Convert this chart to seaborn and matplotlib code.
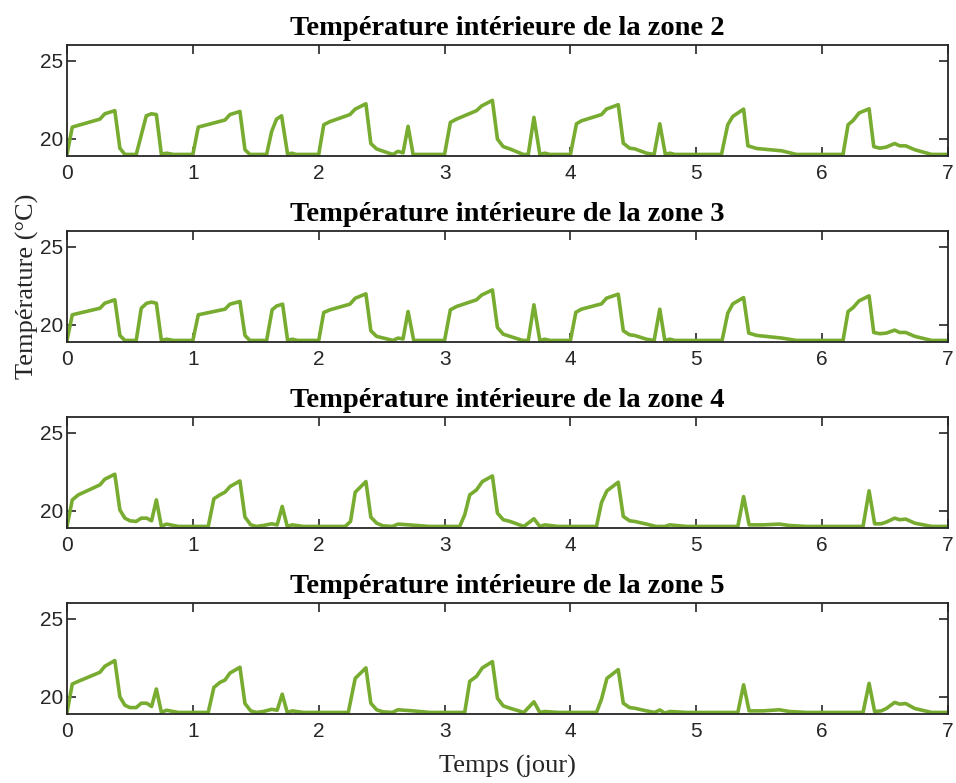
import matplotlib
matplotlib.use("Agg")
import matplotlib.pyplot as plt
import seaborn as sns
import pandas as pd

# ---------------- data (time in days, temperature in °C) ----------------
zones = ["2", "3", "4", "5"]

t2 = [0, 0.042, 0.262, 0.30, 0.38, 0.42, 0.46, 0.55, 0.63, 0.67, 0.71, 0.75, 0.79, 0.845, 1.0,
      1.043, 1.255, 1.295, 1.374, 1.414, 1.453, 1.586, 1.626, 1.665, 1.705, 1.753, 1.785, 1.82, 2.0,
      2.04, 2.09, 2.248, 2.29, 2.375, 2.414, 2.46, 2.55, 2.59, 2.63, 2.67, 2.71, 2.75, 2.79, 3.0,
      3.046, 3.095, 3.254, 3.294, 3.38, 3.42, 3.466, 3.52, 3.625, 3.665, 3.71, 3.757, 3.797, 3.836, 4.0,
      4.048, 4.088, 4.247, 4.286, 4.38, 4.42, 4.47, 4.51, 4.604, 4.665, 4.71, 4.754, 4.79, 4.83, 5.2,
      5.25, 5.29, 5.376, 5.41, 5.48, 5.68, 5.795, 6.166,
      6.206, 6.246, 6.293, 6.373, 6.41, 6.458, 6.51, 6.576, 6.616, 6.664, 6.736, 6.87, 7.0]
v2 = [19.0, 20.75, 21.26, 21.6, 21.8, 19.4, 19.0, 19.0, 21.47, 21.6, 21.55, 19.0, 19.08, 19.0, 19.0,
      20.75, 21.2, 21.55, 21.75, 19.3, 19.0, 19.0, 20.47, 21.26, 21.47, 19.0, 19.08, 19.0, 19.0,
      20.9, 21.1, 21.55, 21.9, 22.24, 19.7, 19.35, 19.1, 19.0, 19.2, 19.1, 20.8, 19.0, 19.0, 19.0,
      21.05, 21.26, 21.8, 22.1, 22.46, 19.98, 19.5, 19.35, 19.0, 19.0, 21.37, 19.0, 19.08, 19.0, 19.0,
      20.96, 21.15, 21.55, 21.9, 22.18, 19.72, 19.4, 19.36, 19.08, 19.0, 20.96, 19.0, 19.08, 19.0, 19.0,
      20.9, 21.43, 21.9, 19.55, 19.38, 19.23, 19.0, 19.0,
      20.9, 21.17, 21.65, 21.92, 19.5, 19.4, 19.47, 19.7, 19.55, 19.55, 19.3, 19.0, 19.0]

t3 = [0, 0.042, 0.262, 0.30, 0.38, 0.42, 0.46, 0.55, 0.59, 0.633, 0.672, 0.71, 0.75, 0.79, 0.845, 1.0,
      1.043, 1.255, 1.295, 1.374, 1.414, 1.453, 1.586, 1.63, 1.665, 1.713, 1.753, 1.79, 1.83, 2.0,
      2.04, 2.09, 2.248, 2.29, 2.375, 2.414, 2.46, 2.55, 2.59, 2.63, 2.67, 2.71, 2.755, 3.0,
      3.046, 3.095, 3.254, 3.294, 3.38, 3.42, 3.466, 3.52, 3.62, 3.665, 3.71, 3.757, 3.797, 3.836, 4.0,
      4.043, 4.088, 4.247, 4.286, 4.38, 4.42, 4.47, 4.51, 4.604, 4.665, 4.71, 4.75, 4.79, 4.83, 5.205,
      5.25, 5.29, 5.376, 5.417, 5.48, 5.68, 5.795, 6.166,
      6.206, 6.246, 6.293, 6.373, 6.41, 6.458, 6.51, 6.576, 6.616, 6.664, 6.736, 6.87, 7.0]
v3 = [19.0, 20.64, 21.06, 21.38, 21.6, 19.32, 19.0, 19.0, 21.06, 21.38, 21.45, 21.38, 19.0, 19.08, 19.0, 19.0,
      20.64, 21.0, 21.32, 21.49, 19.32, 19.0, 19.0, 20.96, 21.2, 21.32, 19.0, 19.08, 19.0, 19.0,
      20.79, 20.96, 21.32, 21.7, 21.98, 19.62, 19.26, 19.08, 19.0, 19.15, 19.1, 20.85, 19.0, 19.0,
      20.96, 21.17, 21.6, 21.9, 22.23, 19.83, 19.4, 19.26, 19.0, 19.0, 21.28, 19.0, 19.08, 19.0, 19.0,
      20.8, 21.0, 21.34, 21.7, 21.96, 19.62, 19.36, 19.32, 19.08, 19.0, 21.0, 19.0, 19.08, 19.0, 19.0,
      20.74, 21.34, 21.74, 19.47, 19.32, 19.15, 19.0, 19.0,
      20.85, 21.1, 21.53, 21.85, 19.51, 19.43, 19.47, 19.66, 19.51, 19.51, 19.26, 19.0, 19.0]

t4 = [0, 0.042, 0.09, 0.262, 0.30, 0.38, 0.42, 0.46, 0.5, 0.55, 0.59, 0.633, 0.672, 0.71, 0.75, 0.79, 0.885, 1.122,
      1.167, 1.215, 1.255, 1.295, 1.374, 1.414, 1.46, 1.506, 1.56, 1.626, 1.67, 1.71, 1.75, 1.79, 1.877, 2.21,
      2.253, 2.29, 2.375, 2.414, 2.46, 2.51, 2.585, 2.63, 2.75, 2.88, 3.12,
      3.16, 3.2, 3.254, 3.3, 3.38, 3.42, 3.466, 3.52, 3.63, 3.71, 3.757, 3.797, 3.9, 4.207,
      4.247, 4.29, 4.38, 4.42, 4.47, 4.51, 4.604, 4.68, 4.75, 4.79, 4.92, 5.33,
      5.376, 5.42, 5.53, 5.66, 5.74, 5.875, 6.325,
      6.373, 6.417, 6.47, 6.51, 6.576, 6.616, 6.664, 6.736, 6.87, 7.0]
v4 = [19.0, 20.7, 21.02, 21.66, 22.02, 22.34, 20.06, 19.53, 19.36, 19.32, 19.53, 19.53, 19.36, 20.7, 19.0, 19.15, 19.0, 19.0,
      20.77, 21.02, 21.19, 21.55, 21.91, 19.6, 19.1, 19.0, 19.06, 19.17, 19.1, 20.28, 19.0, 19.1, 19.0, 19.0,
      19.32, 21.19, 21.87, 19.6, 19.21, 19.04, 19.0, 19.15, 19.08, 19.0, 19.0,
      19.74, 21.02, 21.34, 21.87, 22.23, 19.85, 19.43, 19.32, 19.0, 19.49, 19.0, 19.1, 19.0, 19.0,
      20.53, 21.28, 21.83, 19.64, 19.36, 19.32, 19.15, 19.0, 19.0, 19.1, 19.0, 19.0,
      20.91, 19.1, 19.1, 19.15, 19.06, 19.0, 19.0,
      21.28, 19.17, 19.17, 19.28, 19.53, 19.43, 19.47, 19.21, 19.0, 19.0]

t5 = [0, 0.042, 0.09, 0.262, 0.30, 0.38, 0.42, 0.46, 0.5, 0.55, 0.59, 0.633, 0.672, 0.71, 0.75, 0.79, 0.885, 1.122,
      1.167, 1.215, 1.255, 1.295, 1.374, 1.414, 1.46, 1.506, 1.56, 1.626, 1.67, 1.71, 1.75, 1.79, 1.877, 2.235,
      2.29, 2.375, 2.414, 2.46, 2.51, 2.585, 2.63, 2.75, 2.88, 3.16,
      3.2, 3.254, 3.3, 3.38, 3.42, 3.466, 3.52, 3.63, 3.71, 3.757, 3.797, 3.9, 4.207,
      4.247, 4.29, 4.38, 4.42, 4.47, 4.51, 4.604, 4.67, 4.71, 4.75, 4.79, 4.92, 5.33,
      5.376, 5.42, 5.53, 5.66, 5.74, 5.875, 6.325,
      6.373, 6.417, 6.47, 6.51, 6.576, 6.616, 6.664, 6.736, 6.87, 7.0]
v5 = [19.0, 20.82, 20.99, 21.57, 21.95, 22.32, 20.0, 19.46, 19.31, 19.31, 19.59, 19.59, 19.38, 20.5, 19.0, 19.14, 19.0, 19.0,
      20.6, 20.92, 21.07, 21.52, 21.89, 19.57, 19.1, 19.0, 19.06, 19.2, 19.14, 20.17, 19.0, 19.1, 19.0, 19.0,
      21.18, 21.85, 19.59, 19.17, 19.04, 19.0, 19.17, 19.1, 19.0, 19.0,
      20.99, 21.31, 21.85, 22.25, 19.91, 19.42, 19.27, 19.0, 19.68, 19.0, 19.06, 19.0, 19.0,
      19.85, 21.18, 21.74, 19.59, 19.31, 19.27, 19.1, 19.0, 19.16, 18.96, 19.06, 19.0, 19.0,
      20.77, 19.1, 19.1, 19.17, 19.06, 19.0, 19.0,
      20.86, 19.06, 19.1, 19.25, 19.64, 19.53, 19.57, 19.25, 19.0, 19.0]

x_ticks = [0, 1, 2, 3, 4, 5, 6, 7]
y_ticks = [20, 25]
title_fmt = "Température intérieure de la zone {}"
ylabel_text = "Température (°C)"
xlabel_text = "Temps (jour)"

series = [(t2, v2), (t3, v3), (t4, v4), (t5, v5)]

# ---------------- style ----------------
sns.set_theme(style="ticks")
plt.rcParams["font.family"] = ["Liberation Sans", "DejaVu Sans"]

LINE_COLOR = "#77AC30"
TICK_COLOR = "#262626"
SERIF = ["Liberation Serif", "DejaVu Serif"]

fig = plt.figure(figsize=(9.56, 7.83), dpi=100)

W, H = 956.0, 783.0
left_px, right_px = 67, 948
tops_px = [45, 231, 417, 603]
height_px = 111

axes = []
for i, (tt, vv) in enumerate(series):
    top = tops_px[i]
    ax = fig.add_axes([left_px / W, 1 - (top + height_px) / H,
                       (right_px - left_px) / W, height_px / H])
    df = pd.DataFrame({"t": tt, "T": vv})
    sns.lineplot(data=df, x="t", y="T", ax=ax, color=LINE_COLOR,
                 linewidth=2.6, estimator=None, sort=False)
    ax.set_xlim(0, 7)
    ax.set_ylim(18.9, 26.0)
    ax.set_xticks(x_ticks)
    ax.set_yticks(y_ticks)
    ax.set_xlabel("")
    ax.set_ylabel("")
    for s in ax.spines.values():
        s.set_visible(True)
        s.set_linewidth(1.3)
        s.set_color("#262626")
        s.set_zorder(3)
    ax.tick_params(direction="in", length=6.5, width=1.2, top=True, right=True,
                   labelsize=15, labelcolor=TICK_COLOR, color="#262626")
    ax.tick_params(axis="x", pad=5.5)
    ax.tick_params(axis="y", pad=3)
    ax.set_title(title_fmt.format(zones[i]), fontfamily=SERIF, fontweight="bold",
                 fontsize=20.5, pad=7, color="black")
    axes.append(ax)

axes[1].set_ylabel(ylabel_text, fontfamily=SERIF, fontsize=19, color=TICK_COLOR)
axes[1].yaxis.set_label_coords(-0.032, 0.5)
axes[3].set_xlabel(xlabel_text, fontfamily=SERIF, fontsize=19, color=TICK_COLOR, labelpad=10)

fig.savefig("out.png", dpi=100)
